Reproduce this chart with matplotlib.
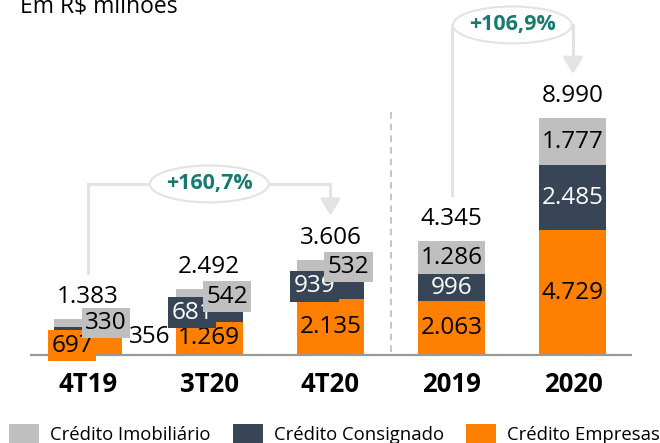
import matplotlib
matplotlib.use('Agg')
import matplotlib.pyplot as plt
from matplotlib.patches import Ellipse, Rectangle

plt.rcParams['font.family'] = ['Open Sans', 'DejaVu Sans']

categories = ['4T19', '3T20', '4T20', '2019', '2020']
empresas = [697, 1269, 2135, 2063, 4729]
consignado = [356, 681, 939, 996, 2485]
imobiliario = [330, 542, 532, 1286, 1777]
totals = [1383, 2492, 3606, 4345, 8990]
growth = ['+160,7%', '+106,9%']
legend_labels = ['Crédito Imobiliário', 'Crédito Consignado', 'Crédito Empresas']

c_imob = '#bfbfbf'
c_cons = '#374556'
c_emp = '#ff7f00'
c_line = '#e3e3e3'
c_green = '#177a6e'

# label offsets in pixels (dx, dy down) and whether the label sits on a box
emp_off = [(-16, 0, True), (0, 0, False), (0, 0, False), (0, 0, False), (0, 0, False)]
cons_off = [(62, 5, False), (-17, 0, True), (-16, 0, True), (0, 0, False), (0, 0, False)]
imob_off = [(18, 0, True), (18, 0, True), (18, 0, True), (0, 0, False), (0, 0, False)]


def fmt(v):
    return f'{v:,}'.replace(',', '.')


fig = plt.figure(figsize=(6.6, 4.43), dpi=100)
ax = fig.add_axes([0, 0, 1, 1])
ax.set_xlim(-0.726, 4.718)
ax.set_ylim(-3340, 13480)
ax.axis('off')

x = list(range(len(categories)))
w = 0.553
bottom2 = [a + b for a, b in zip(empresas, consignado)]
ax.bar(x, empresas, w, color=c_emp, zorder=2)
ax.bar(x, consignado, w, bottom=empresas, color=c_cons, zorder=2)
ax.bar(x, imobiliario, w, bottom=bottom2, color=c_imob, zorder=2)

ax.plot([-0.48, 4.49], [0, 0], color='#999999', lw=1.6, zorder=3, solid_capstyle='butt')
ax.plot([2.5, 2.5], [100, 9400], color='#bbbbbb', lw=1.2, ls=(0, (4, 3)), zorder=1)

series = [
    (empresas, [0] * 5, c_emp, 'black', emp_off),
    (consignado, empresas, c_cons, 'white', cons_off),
    (imobiliario, bottom2, c_imob, 'black', imob_off),
]
for vals, bots, col, tcol, offs in series:
    for i, (v, b) in enumerate(zip(vals, bots)):
        dx, dy, boxed = offs[i]
        color = tcol if boxed or (dx == 0 and dy == 0) else 'black'
        bbox = dict(boxstyle='square,pad=0.14', fc=col, ec='none') if boxed else None
        ax.annotate(fmt(v), xy=(i, b + v / 2), xytext=(dx, -dy), textcoords='offset pixels',
                    ha='center', va='center', fontsize=17.5, color=color, bbox=bbox, zorder=4)

for i, t in enumerate(totals):
    ax.annotate(fmt(t), xy=(i, t), xytext=(0, 22), textcoords='offset pixels',
                ha='center', va='center', fontsize=17.5, color='black')
    ax.text(i, -1100, categories[i], ha='center', va='center', fontsize=18.5,
            fontweight='bold', color='black')

# growth brackets
def bracket(i0, i1, y_top, label, flat):
    lw = 2.2
    y0 = totals[i0] + 1750
    y1 = totals[i1] + 1680
    xm = (i0 + i1) / 2
    if flat:
        ax.plot([i0, i0, i1, i1], [y0, y_top, y_top, y1 + 300], color=c_line, lw=lw,
                zorder=1, solid_joinstyle='miter')
    else:
        ax.plot([i0, i0], [y0, y_top], color=c_line, lw=lw, zorder=1)
        ax.plot([i1, i1], [y_top, y1 + 300], color=c_line, lw=lw, zorder=1)
    ax.annotate('', xy=(i1, y1), xytext=(i1, y1 + 600),
                arrowprops=dict(arrowstyle='-|>,head_length=0.5,head_width=0.3',
                                mutation_scale=20, color=c_line, lw=lw,
                                shrinkA=0, shrinkB=0))
    ell = Ellipse((xm, y_top), 0.98, 1400, fc='white', ec=c_line, lw=1.5, zorder=2)
    ax.add_patch(ell)
    ax.text(xm, y_top, label, ha='center', va='center', fontsize=15.5,
            fontweight='bold', color=c_green, zorder=3)


bracket(0, 2, 6495, growth[0], True)
bracket(3, 4, 12533, growth[1], False)

fig.text(20 / 660, 1 - 13 / 443, 'Em R$ milhões', fontsize=16.5, va='baseline', ha='left')

# legend
leg_x = [9, 233, 466]
for lx, col, lab in zip(leg_x, [c_imob, c_cons, c_emp], legend_labels):
    fig.add_artist(Rectangle((lx / 660, -3 / 443), 30 / 660, 22 / 443,
                             transform=fig.transFigure, fc=col, ec='none'))
    fig.text((lx + 41) / 660, 1 - 440 / 443, lab, fontsize=13.3, va='baseline', ha='left')

fig.savefig('out.png', dpi=100)
